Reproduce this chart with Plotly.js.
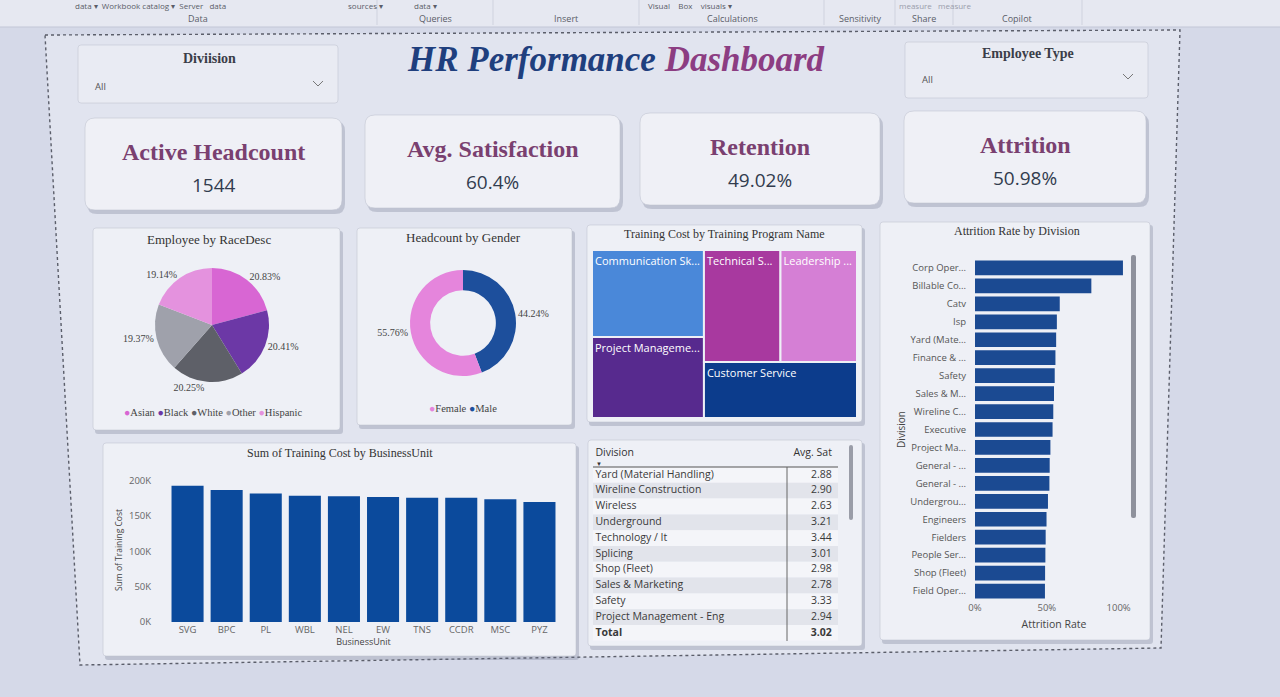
<!DOCTYPE html>
<html><head><meta charset="utf-8">
<script src="https://cdn.plot.ly/plotly-3.0.1.min.js"></script>
<style>html,body{margin:0;padding:0;background:#d5d9e8;overflow:hidden}#chart{width:1280px;height:697px}</style>
</head><body><div id="chart"></div>
<script>
// ---------------- DATA ----------------
const raceLabels = ['Asian','Black','White','Other','Hispanic'];
const raceShare = [20.83,20.41,20.25,19.37,19.14];
const raceColors = ['#d866d3','#6c38a6','#5e6068','#9fa1ab','#e492de'];

const genderLabels = ['Male','Female'];
const genderShare = [44.24,55.76];
const genderColors = ['#1d4f9c','#e585dc'];
const genderLegendOrder = ['Female','Male'];

const programNames = ['Communication Skills','Project Management','Technical Skills','Leadership Development','Customer Service'];
const programLabels = ['Communication Sk...','Project Manageme...','Technical S...','Leadership ...','Customer Service'];
const programCost = [392000,365000,345000,345000,345000];
const programColors = ['#4a88d9','#572a8e','#a8399f','#d57fd5','#0c3c8c'];

const businessUnits = ['SVG','BPC','PL','WBL','NEL','EW','TNS','CCDR','MSC','PYZ'];
const trainingCost = [193000,187000,182000,179000,178000,177000,176000,176000,174000,170000];
const costTickVals = [0,50000,100000,150000,200000];
const costTickText = ['0K','50K','100K','150K','200K'];

const attrDivisions = ['Corp Operations','Billable Consultants','Catv','Isp','Yard (Material Handling)','Finance & Accounting','Safety','Sales & Marketing','Wireline Construction','Executive','Project Management - Con','General - Con','General - Sga','Underground','Engineers','Fielders','People Services','Shop (Fleet)','Field Operations'];
const attrLabels = ['Corp Oper...','Billable Co...','Catv','Isp','Yard (Mate...','Finance & ...','Safety','Sales & M...','Wireline C...','Executive','Project Ma...','General - ...','General - ...','Undergrou...','Engineers','Fielders','People Ser...','Shop (Fleet)','Field Oper...'];
const attrRate = [1.03,0.81,0.59,0.57,0.565,0.56,0.555,0.55,0.545,0.54,0.525,0.52,0.518,0.508,0.498,0.492,0.49,0.488,0.487];
const attrTickVals = [0,0.5,1];
const attrTickText = ['0%','50%','100%'];

const tableHeader = ['Division','Avg. Sat'];
const tableDivisions = ['Yard (Material Handling)','Wireline Construction','Wireless','Underground','Technology / It','Splicing','Shop (Fleet)','Sales & Marketing','Safety','Project Management - Eng'];
const tableAvgSat = [2.88,2.90,2.63,3.21,3.44,3.01,2.98,2.78,3.33,2.94];
const tableTotalLabel = 'Total';
const tableTotal = 3.02;

const kpiLabels = ['Active Headcount','Avg. Satisfaction','Retention','Attrition'];
const kpiValues = ['1544','60.4%','49.02%','50.98%'];

const ribbonGroups = ['Data','Queries','Insert','Calculations','Sensitivity','Share','Copilot'];

// ---------------- HELPERS ----------------
const W = 1280, H = 697;
const X = p => p / W;
const Y = p => 1 - p / H;
const pt = (x, y) => `${X(x).toFixed(5)},${Y(y).toFixed(5)}`;
function rrect(x0, y0, x1, y1, r) {
  return `M${pt(x0+r,y0)} L${pt(x1-r,y0)} Q${pt(x1,y0)} ${pt(x1,y0+r)} L${pt(x1,y1-r)} Q${pt(x1,y1)} ${pt(x1-r,y1)} L${pt(x0+r,y1)} Q${pt(x0,y1)} ${pt(x0,y1-r)} L${pt(x0,y0+r)} Q${pt(x0,y0)} ${pt(x0+r,y0)} Z`;
}
const shapes = [];
const annotations = [];
function card(x0, y0, x1, y1, r, fill, shadow) {
  if (shadow !== false) shapes.push({type:'path', xref:'paper', yref:'paper', path: rrect(x0+2, y0+3, x1+3, y1+4, r), fillcolor:'rgba(105,110,135,0.28)', line:{width:0}, layer:'below'});
  shapes.push({type:'path', xref:'paper', yref:'paper', path: rrect(x0, y0, x1, y1, r), fillcolor: fill, line:{width:0.6, color:'rgba(190,193,206,0.9)'}, layer:'below'});
}
function text(x, y, t, size, color, family, opts) {
  annotations.push(Object.assign({xref:'paper', yref:'paper', x:X(x), y:Y(y), text:t, showarrow:false,
    xanchor:'center', yanchor:'middle', font:{size:size, color:color, family:family}}, opts || {}));
}
function line(x0, y0, x1, y1, color, width, dash) {
  shapes.push({type:'line', xref:'paper', yref:'paper', x0:X(x0), y0:Y(y0), x1:X(x1), y1:Y(y1), line:{color:color, width:width, dash:dash||'solid'}, layer:'above'});
}
const SERIF = 'Liberation Serif, DejaVu Serif, serif';
const SANS = 'Open Sans, Noto Sans, sans-serif';

// ---------------- BACKGROUND / RIBBON / FRAME ----------------
shapes.push({type:'rect', xref:'paper', yref:'paper', x0:0, x1:1, y0:Y(27), y1:1, fillcolor:'#e6e8f1', line:{width:0}, layer:'below'});
line(0, 27, 1280, 27, '#c3c7d6', 1);
[377,493,639,824,895,953,1082].forEach(sx => line(sx, 0, sx, 25, '#cfd2de', 1));
const ribbonX = [198,435,566,732,860,924,1017];
ribbonGroups.forEach((g,i) => text(ribbonX[i], 18, g, 9, '#5a5d68', SANS));
text(150, 5, 'data ▾  Workbook catalog ▾  Server   data', 8, '#5a5d68', SANS);
text(365, 5, 'sources ▾', 8, '#5a5d68', SANS);
text(425, 5, 'data ▾', 8, '#5a5d68', SANS);
text(690, 5, 'Visual    Box    visuals ▾', 8, '#5a5d68', SANS);
text(935, 5, 'measure   measure', 8, '#9a9dab', SANS);

shapes.push({type:'path', xref:'paper', yref:'paper', path:`M${pt(45,35)} L${pt(1180,30)} L${pt(1161,648)} L${pt(80,665)} Z`,
  fillcolor:'#e1e4ef', line:{color:'#5b5e6a', width:1.4, dash:'dot'}, layer:'below'});

// ---------------- SLICERS & TITLE ----------------
card(78, 45, 338, 103, 3, '#e9ebf3', false);
text(209, 58, '<b>Diviision</b>', 14, '#3a3d48', SERIF);
text(93, 86, 'All', 9.5, '#555', SANS, {xanchor:'left'});
shapes.push({type:'path', xref:'paper', yref:'paper', path:`M${pt(313,81)} L${pt(318,86)} L${pt(323,81)}`, line:{color:'#777', width:1}, layer:'above'});

card(905, 42, 1148, 98, 3, '#e9ebf3', false);
text(1028, 53, '<b>Employee Type</b>', 14, '#3a3d48', SERIF);
text(920, 80, 'All', 9.5, '#555', SANS, {xanchor:'left'});
shapes.push({type:'path', xref:'paper', yref:'paper', path:`M${pt(1123,74)} L${pt(1128,79)} L${pt(1133,74)}`, line:{color:'#777', width:1}, layer:'above'});

text(616, 60, '<b><i><span style="color:#1f3f7e">HR Performance</span> <span style="color:#8c3d82">Dashboard</span></i></b>', 35, '#1f3f7e', SERIF);

// ---------------- KPI CARDS ----------------
const kpiBoxes = [[85,118,342,210],[365,115,620,208],[640,113,880,205],[904,111,1146,203]];
kpiBoxes.forEach((b,i) => {
  card(b[0], b[1], b[2], b[3], 10, '#eff0f6');
  const cx = (b[0]+b[2])/2;
  text(cx, b[1]+34, '<b>' + kpiLabels[i] + '</b>', 24, '#7a4070', SERIF);
  text(cx, b[1]+67, kpiValues[i], 19, '#323c4e', SANS);
});

// ---------------- VISUAL CARDS ----------------
card(93, 228, 340, 430, 3, '#eef0f6');
text(209, 239, 'Employee by RaceDesc', 13, '#333', SERIF);
card(357, 228, 572, 425, 3, '#eef0f6');
text(463, 237, 'Headcount by Gender', 13, '#333', SERIF);
card(587, 225, 862, 422, 3, '#eef0f6');
text(724, 234, 'Training Cost by Training Program Name', 12, '#333', SERIF);
card(880, 222, 1150, 640, 3, '#eef0f6');
text(1017, 231, 'Attrition Rate by Division', 12, '#333', SERIF);
card(103, 443, 576, 656, 3, '#eef0f6');
text(340, 453, 'Sum of Training Cost by BusinessUnit', 12, '#333', SERIF);
card(588, 440, 862, 646, 3, '#eef0f6');

// legends for pies (built from data arrays)
text(213, 412, raceLabels.map((l,i) => `<span style="color:${raceColors[i]}">●</span>${l}`).join(' '), 10.5, '#444', SERIF);
text(463, 408, genderLegendOrder.map(l => `<span style="color:${genderColors[genderLabels.indexOf(l)]}">●</span>${l}`).join(' '), 10.5, '#444', SERIF);

// scrollbars
shapes.push({type:'path', xref:'paper', yref:'paper', path: rrect(1131,255,1136,518,2), fillcolor:'#8e919c', line:{width:0}, layer:'above'});
shapes.push({type:'path', xref:'paper', yref:'paper', path: rrect(849,445,853,520,2), fillcolor:'#9a9da8', line:{width:0}, layer:'above'});

// table decorations
line(593, 467, 838, 467, '#555', 1);
line(787, 467, 787, 641, '#666', 1);
text(599, 464, '▼', 6, '#333', SANS);

// ---------------- TRACES ----------------
const traces = [];

traces.push({type:'pie', labels: raceLabels, values: raceShare, sort:false, direction:'clockwise', rotation:0,
  marker:{colors: raceColors, line:{width:0}}, textposition:'outside', texttemplate:'%{percent:.2%}',
  textfont:{family:SERIF, size:10, color:'#444'}, automargin:false, hoverinfo:'none', showlegend:false,
  domain:{x:[X(155),X(269)], y:[Y(382),Y(268)]}});

traces.push({type:'pie', labels: genderLabels, values: genderShare, sort:false, direction:'clockwise', rotation:0, hole:0.62,
  marker:{colors: genderColors, line:{width:0}}, textposition:'outside', texttemplate:'%{percent:.2%}',
  textfont:{family:SERIF, size:10, color:'#444'}, automargin:false, hoverinfo:'none', showlegend:false,
  domain:{x:[X(410),X(516)], y:[Y(376),Y(270)]}});

traces.push({type:'treemap', labels: programNames, parents: programNames.map(() => ''), values: programCost,
  text: programLabels, textinfo:'text', textposition:'top left', sort:true,
  marker:{colors: programColors, line:{width:2, color:'#eef0f6'}, pad:{t:0,l:0,r:0,b:0}}, tiling:{packing:'binary', pad:0},
  pathbar:{visible:false}, textfont:{family:SANS, size:11, color:'#ffffff'}, hoverinfo:'none',
  domain:{x:[X(592),X(857)], y:[Y(418),Y(250)]}});

traces.push({type:'bar', x: businessUnits, y: trainingCost, marker:{color:'#0b4a9c'}, hoverinfo:'none',
  xaxis:'x', yaxis:'y', showlegend:false});

traces.push({type:'bar', orientation:'h', y: attrDivisions, x: attrRate, marker:{color:'#1b4a92'}, hoverinfo:'none',
  xaxis:'x2', yaxis:'y2', showlegend:false});

// table drawn on its own axes: striped row bars + text columns
const rowNames = tableDivisions.concat(['<b>' + tableTotalLabel + '</b>']);
const rowVals = tableAvgSat.map(v => v.toFixed(2)).concat(['<b>' + tableTotal.toFixed(2) + '</b>']);
const rowIdx = rowNames.map((_, i) => i);
traces.push({type:'bar', orientation:'h', y: rowIdx, x: rowIdx.map(() => 1), base: 0, width: 1,
  marker:{color: rowIdx.map(i => i % 2 === 0 ? '#f4f5f9' : '#e2e4eb'), line:{width:0}},
  xaxis:'x3', yaxis:'y3', hoverinfo:'none', showlegend:false});
traces.push({type:'scatter', mode:'text', y: rowIdx, x: rowIdx.map(() => 0.01), text: rowNames, textposition:'middle right',
  textfont:{family:SANS, size:10.5, color:'#3a3a3a'}, xaxis:'x3', yaxis:'y3', hoverinfo:'none', showlegend:false, cliponaxis:false});
traces.push({type:'scatter', mode:'text', y: rowIdx, x: rowIdx.map(() => 0.975), text: rowVals, textposition:'middle left',
  textfont:{family:SANS, size:10.5, color:'#3a3a3a'}, xaxis:'x3', yaxis:'y3', hoverinfo:'none', showlegend:false, cliponaxis:false});
traces.push({type:'scatter', mode:'text', y: [-1.35, -1.35], x: [0.01, 0.975], text: tableHeader, textposition:['middle right','middle left'],
  textfont:{family:SANS, size:10.5, color:'#333'}, xaxis:'x3', yaxis:'y3', hoverinfo:'none', showlegend:false, cliponaxis:false});

// ---------------- LAYOUT ----------------
const tickFont = {family:SANS, size:9.5, color:'#666'};
const rowH = 15.8;
const hidden = {visible:false, showgrid:false, zeroline:false, fixedrange:true};
const layout = {
  width: W, height: H, margin:{l:0, r:0, t:0, b:0},
  paper_bgcolor:'#d5d9e8', plot_bgcolor:'rgba(0,0,0,0)', showlegend:false,
  bargap: 0.18, barmode:'overlay',
  xaxis:{domain:[X(168),X(559)], anchor:'y', tickfont:tickFont, showgrid:false, zeroline:false, showline:false,
    title:{text:'BusinessUnit', font:{family:SANS, size:9, color:'#444'}, standoff:2}, fixedrange:true},
  yaxis:{domain:[Y(622),Y(478)], anchor:'x', range:[0,204000], tickvals:costTickVals, ticktext:costTickText,
    tickfont:tickFont, showgrid:false, zeroline:false, ticks:'outside', ticklen:14, tickcolor:'rgba(0,0,0,0)',
    title:{text:'Sum of Training Cost', font:{family:SANS, size:8.5, color:'#444'}, standoff:4}, fixedrange:true},
  xaxis2:{domain:[X(975),X(1133)], anchor:'y2', range:[0,1.1], tickvals:attrTickVals, ticktext:attrTickText,
    tickfont:tickFont, showgrid:false, zeroline:false,
    title:{text:'Attrition Rate', font:{family:SANS, size:10.5, color:'#444'}, standoff:8}, fixedrange:true},
  yaxis2:{domain:[Y(600),Y(259)], anchor:'x2', autorange:'reversed', tickvals:attrDivisions, ticktext:attrLabels,
    tickfont:{family:SANS, size:9.5, color:'#555'}, showgrid:false, zeroline:false, ticks:'outside', ticklen:6, tickcolor:'rgba(0,0,0,0)',
    title:{text:'Division', font:{family:SANS, size:10, color:'#444'}, standoff:2}, fixedrange:true},
  xaxis3:Object.assign({domain:[X(593),X(838)], anchor:'y3', range:[0,1]}, hidden),
  yaxis3:Object.assign({domain:[Y(467 + 11*rowH), Y(467 - 1.5*rowH)], anchor:'x3', range:[10.5, -2]}, hidden),
  shapes: shapes, annotations: annotations
};
Plotly.newPlot('chart', traces, layout, {displayModeBar:false, staticPlot:true});
</script></body></html>
